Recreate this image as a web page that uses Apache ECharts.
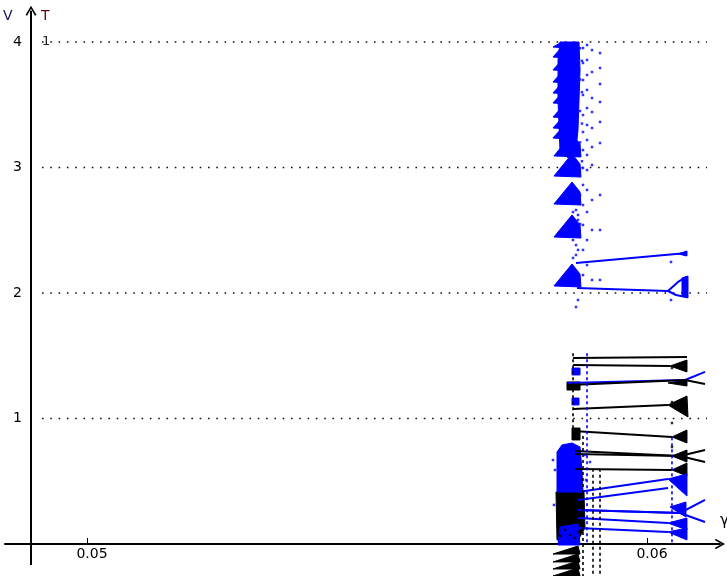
<!DOCTYPE html>
<html><head><meta charset="utf-8">
<script src="https://cdn.jsdelivr.net/npm/echarts@6/dist/echarts.min.js"></script>
<style>html,body{margin:0;padding:0;background:#fff}#c{width:727px;height:576px}</style>
</head><body><div id="c"></div><script>
// ---- tick values ----
const xTicks = [0.05, 0.06];
const yTicks = [1, 2, 3, 4];
const gridLevels = [1, 2, 3, 4];

// ---- dense chaotic clouds (polygons in [gamma, V]) ----
const upperBlueCloud = [[
  [0.058446,4.0],[0.058786,4.0],[0.058804,3.777],[0.058786,3.538],[0.058768,3.299],
  [0.058732,3.139],[0.058589,3.076],[0.058446,3.139],[0.058411,3.538],[0.058411,3.857]
]];
const upperBlueTeeth = [
  [[0.058321,3.960],[0.058589,3.952],[0.058482,4.0]],
  [[0.058321,3.880],[0.058589,3.873],[0.058482,3.960]],
  [[0.058321,3.777],[0.058589,3.769],[0.058482,3.857]],
  [[0.058321,3.681],[0.058589,3.673],[0.058482,3.761]],
  [[0.058321,3.594],[0.058589,3.586],[0.058482,3.673]],
  [[0.058321,3.514],[0.058589,3.506],[0.058482,3.594]],
  [[0.058321,3.402],[0.058589,3.394],[0.058482,3.482]],
  [[0.058321,3.315],[0.058589,3.307],[0.058482,3.394]],
  [[0.058321,3.235],[0.058589,3.227],[0.058482,3.315]]
];
const upperBlueLobes = [
  [[0.058339,3.092],[0.058821,3.084],[0.058804,3.187],[0.058661,3.267]],
  [[0.058339,2.932],[0.058821,2.924],[0.058804,3.028],[0.058661,3.108]],
  [[0.058339,2.709],[0.058821,2.701],[0.058804,2.805],[0.058661,2.884]],
  [[0.058339,2.446],[0.058821,2.438],[0.058804,2.542],[0.058661,2.622]],
  [[0.058339,2.056],[0.058821,2.048],[0.058804,2.151],[0.058661,2.231]]
];
const lowerBlackCloud = [
  [[0.058375,0.414],[0.058875,0.414],[0.058893,0.127],[0.058768,0.032],[0.058393,0.032]],
  [[0.058571,1.291],[0.058804,1.291],[0.058804,1.227],[0.058571,1.227]],
  [[0.058661,0.924],[0.058804,0.924],[0.058804,0.829],[0.058661,0.829]]
];
const lowerBlueCloud = [
  [[0.058393,0.733],[0.058482,0.789],[0.058661,0.805],[0.058804,0.773],[0.058839,0.590],[0.058857,0.414],[0.058393,0.414]],
  [[0.058446,0.135],[0.058768,0.159],[0.058804,-0.008],[0.058411,-0.008]],
  [[0.058661,1.402],[0.058804,1.402],[0.058804,1.347],[0.058661,1.347]],
  [[0.058661,1.163],[0.058786,1.163],[0.058786,1.108],[0.058661,1.108]]
];
const belowAxisLobes = [
  [[0.058321,-0.080],[0.058804,-0.080],[0.058768,-0.016]],
  [[0.058321,-0.143],[0.058804,-0.143],[0.058768,-0.080]],
  [[0.058321,-0.199],[0.058804,-0.199],[0.058768,-0.135]],
  [[0.058321,-0.255],[0.058804,-0.255],[0.058768,-0.191]]
];
// ---- bifurcation blobs at the right ends ----
const blackBlobs = [
  [[0.060411,1.418],[0.060714,1.466],[0.060714,1.371]],
  [[0.060375,1.283],[0.060714,1.307],[0.060714,1.259]],
  [[0.060375,1.108],[0.060714,1.179],[0.060732,1.012]],
  [[0.060446,0.853],[0.060714,0.908],[0.060714,0.805]],
  [[0.060446,0.701],[0.060714,0.749],[0.060714,0.653]],
  [[0.060446,0.590],[0.060714,0.645],[0.060714,0.542]]
];
const blueBlobs = [
  [[0.060375,0.518],[0.060714,0.558],[0.060714,0.382]],
  [[0.060411,0.295],[0.060696,0.335],[0.060696,0.215]],
  [[0.060375,0.167],[0.060714,0.207],[0.060714,0.112]],
  [[0.060375,0.096],[0.060714,0.127],[0.060714,0.032]],
  [[0.060554,2.311],[0.060714,2.335],[0.060714,2.295]],
  [[0.060625,2.120],[0.060732,2.135],[0.060732,1.960],[0.060625,1.976]]
];
// ---- periodic branches (polylines) ----
const blackBranches = [
  [[0.058679,1.482],[0.060714,1.490]],
  [[0.058679,1.426],[0.060411,1.418]],
  [[0.058625,1.267],[0.060679,1.307],[0.061036,1.275]],
  [[0.058679,1.076],[0.060375,1.108]],
  [[0.058679,0.900],[0.060446,0.853]],
  [[0.058714,0.741],[0.060589,0.701],[0.061036,0.749]],
  [[0.058714,0.717],[0.060589,0.701],[0.061036,0.653]],
  [[0.058714,0.598],[0.060446,0.590]]
];
const blueBranches = [
  [[0.058732,2.239],[0.060714,2.319]],
  [[0.058750,2.040],[0.060375,2.016]],
  [[0.060375,2.016],[0.060554,2.088],[0.060696,2.127],[0.060714,2.024],[0.060696,1.968],[0.060518,1.984],[0.060375,2.016]],
  [[0.058589,1.283],[0.060679,1.307],[0.061036,1.371]],
  [[0.058768,0.414],[0.060375,0.518]],
  [[0.058768,0.351],[0.060375,0.446]],
  [[0.058768,0.271],[0.060589,0.247],[0.061036,0.351]],
  [[0.058768,0.271],[0.060589,0.247],[0.061036,0.175]],
  [[0.058768,0.207],[0.060375,0.167]],
  [[0.058768,0.127],[0.060375,0.096]]
];
// ---- dashed columns ----
const blackColumns = [
  [[0.058857,0.86],[0.058857,-0.255]],
  [[0.059036,0.60],[0.059036,-0.255]],
  [[0.059161,0.60],[0.059161,-0.255]],
  [[0.058679,1.52],[0.058679,0.83]]
];
const blueColumns = [
  [[0.058929,1.52],[0.058929,0.0]],
  [[0.060446,0.85],[0.060446,-0.01]]
];
// ---- scattered points ----
const blueDots = [
  [0.059161,3.912],[0.059161,3.793],[0.059161,3.665],[0.059161,3.522],[0.059161,3.363],[0.059161,3.195],[0.059161,2.781],[0.059161,2.502],[0.059161,2.104],
  [0.059018,3.936],[0.059018,3.761],[0.059018,3.554],[0.059018,3.442],[0.059018,3.315],[0.059018,3.163],[0.059018,3.020],[0.059018,2.741],[0.059018,2.502],[0.059018,2.104],
  [0.058929,3.976],[0.058929,3.857],[0.058929,3.737],[0.058929,3.618],[0.058929,3.474],[0.058929,3.339],[0.058929,3.219],[0.058929,3.100],[0.058929,2.980],[0.058929,2.821],[0.058929,2.645],[0.058929,2.422],[0.058929,2.223],
  [0.058857,3.952],[0.058857,3.833],[0.058857,3.697],[0.058857,3.578],[0.058857,3.418],[0.058857,3.283],[0.058857,3.139],[0.058857,2.996],[0.058857,2.861],[0.058857,2.701],[0.058857,2.542],[0.058857,2.343],[0.058857,2.143],
  [0.058804,3.950],[0.058804,3.700],[0.058804,3.450],[0.058804,3.200],[0.058804,2.980],[0.058804,2.780],[0.058804,2.550],
  [0.058839,3.850],[0.058839,3.600],[0.058839,3.350],[0.058839,3.050],
  [0.058732,2.661],[0.058732,2.382],[0.058732,2.303],[0.058732,1.888],[0.058768,2.622],[0.058768,2.343],[0.058768,1.944],[0.058768,2.582],
  [0.058679,2.645],[0.058679,2.422],[0.058679,2.279],
  [0.060429,2.247],[0.060429,1.944],
  [0.058321,0.669],[0.058357,0.590],[0.058893,0.709],[0.058982,0.653],[0.058339,0.311],[0.058911,0.510]
];
const blackDots = [
  [0.060446,1.402],[0.060446,1.131],[0.060446,0.964],[0.060446,0.773],
  [0.058536,0.112],[0.058625,0.072],[0.058714,0.048],[0.058446,0.064],[0.058768,0.096]
];
const gridStart = 0.049196, gridEnd = 0.061071;
const yAxisLine = [[0.049,-0.167],[0.049,4.25]];

const BLUE = '#0000ff', BLACK = '#000000';
const chevron = 'path://M0,9 L5,0 L10,9 L8.6,9.6 L5,3 L1.4,9.6 Z';

function polySeries(polys, color, z) {
  return {
    type: 'custom', silent: true, clip: false, z: z,
    data: polys.map(p => p[0]),
    encode: { x: 0, y: 1 },
    renderItem: function (params, api) {
      return {
        type: 'polygon',
        shape: { points: polys[params.dataIndex].map(pt => api.coord(pt)) },
        style: { fill: color, stroke: color, lineWidth: 1 }
      };
    }
  };
}
function lineSeries(pts, color, width, dash, z) {
  return { type: 'line', data: pts, symbol: 'none', silent: true, z: z,
    lineStyle: { color: color, width: width, type: dash || 'solid' } };
}

const series = [];
gridLevels.forEach(g => series.push(lineSeries([[gridStart, g], [gridEnd, g]], '#111', 1.6, [1.6, 6.7], 1)));
series.push(polySeries(upperBlueCloud, BLUE, 3));
series.push(polySeries(upperBlueTeeth, BLUE, 3));
series.push(polySeries(upperBlueLobes, BLUE, 3));
series.push(polySeries(lowerBlackCloud, BLACK, 3));
series.push(polySeries(lowerBlueCloud, BLUE, 4));
series.push(polySeries(belowAxisLobes, BLACK, 3));
series.push(polySeries(blackBlobs, BLACK, 5));
series.push(polySeries(blueBlobs, BLUE, 5));
blueBranches.forEach(b => series.push(lineSeries(b, BLUE, 2, 'solid', 5)));
blackBranches.forEach(b => series.push(lineSeries(b, BLACK, 2, 'solid', 6)));
blackColumns.forEach(c => series.push(lineSeries(c, BLACK, 1.6, [3, 3], 6)));
blueColumns.forEach(c => series.push(lineSeries(c, BLUE, 1.6, [3, 3], 6)));
series.push({ type: 'scatter', data: blueDots, symbol: 'rect', symbolSize: 2.5, itemStyle: { color: BLUE }, silent: true, z: 6 });
series.push({ type: 'scatter', data: blackDots, symbol: 'rect', symbolSize: 2.5, itemStyle: { color: BLACK }, silent: true, z: 7 });
series.push({ type: 'line', silent: true, z: 10,
  data: [{ value: yAxisLine[0], symbol: 'none' }, { value: yAxisLine[1], symbol: chevron, symbolSize: [11, 10] }],
  lineStyle: { color: '#000', width: 2 }, itemStyle: { color: '#000' } });
// empty series so the label-only axis pair is laid out
series.push({ type: 'scatter', xAxisIndex: 1, yAxisIndex: 1, data: [], silent: true });

const XMIN = 0.0485357, XMAX = 0.0613036;
const chart = echarts.init(document.getElementById('c'), null, { renderer: 'canvas' });
chart.setOption({
  animation: false,
  backgroundColor: '#fff',
  grid: [
    { left: 5, right: 7, top: 4, bottom: 0, containLabel: false, outerBoundsMode: 'none' },
    { left: 5, right: 7, top: 4, bottom: 32, containLabel: false, outerBoundsMode: 'none' }
  ],
  xAxis: [{
    type: 'value', min: XMIN, max: XMAX, gridIndex: 0,
    axisLine: { show: true, onZero: true, symbol: ['none', chevron], symbolSize: [11, 10],
      lineStyle: { color: '#000', width: 2 } },
    axisTick: { show: true, inside: true, length: 6, customValues: xTicks, lineStyle: { color: '#000', width: 1 } },
    axisLabel: { show: false },
    splitLine: { show: false }
  }, {
    type: 'value', min: XMIN, max: XMAX, gridIndex: 1,
    axisLine: { show: false }, axisTick: { show: false }, splitLine: { show: false },
    axisLabel: { show: true, customValues: xTicks, formatter: v => v.toFixed(2), color: '#000',
      fontFamily: 'DejaVu Sans', fontSize: 14, margin: 3, padding: [0, 0, 0, 10] }
  }],
  yAxis: [{
    type: 'value', min: -0.255, max: 4.3028, gridIndex: 0,
    axisLine: { show: false }, axisTick: { show: false }, splitLine: { show: false },
    axisLabel: { show: true, inside: true, margin: 8, customValues: yTicks, color: '#000',
      fontFamily: 'DejaVu Sans', fontSize: 14 }
  }, {
    type: 'value', min: 0, max: 1, gridIndex: 1, show: false
  }],
  graphic: [
    { type: 'text', left: 3, top: 9, style: { text: 'V', fill: '#14145a', font: '14px "DejaVu Sans"' } },
    { type: 'text', left: 41, top: 9, style: { text: 'T', fill: '#5a0a0a', font: '14px "DejaVu Sans"' } },
    { type: 'text', left: 42, top: 35, style: { text: '1', fill: '#222', font: '13px "DejaVu Sans"' } },
    { type: 'text', left: 720, top: 514, style: { text: 'γ', fill: '#000', font: '15px "DejaVu Sans"' } }
  ],
  series: series
});
</script></body></html>
